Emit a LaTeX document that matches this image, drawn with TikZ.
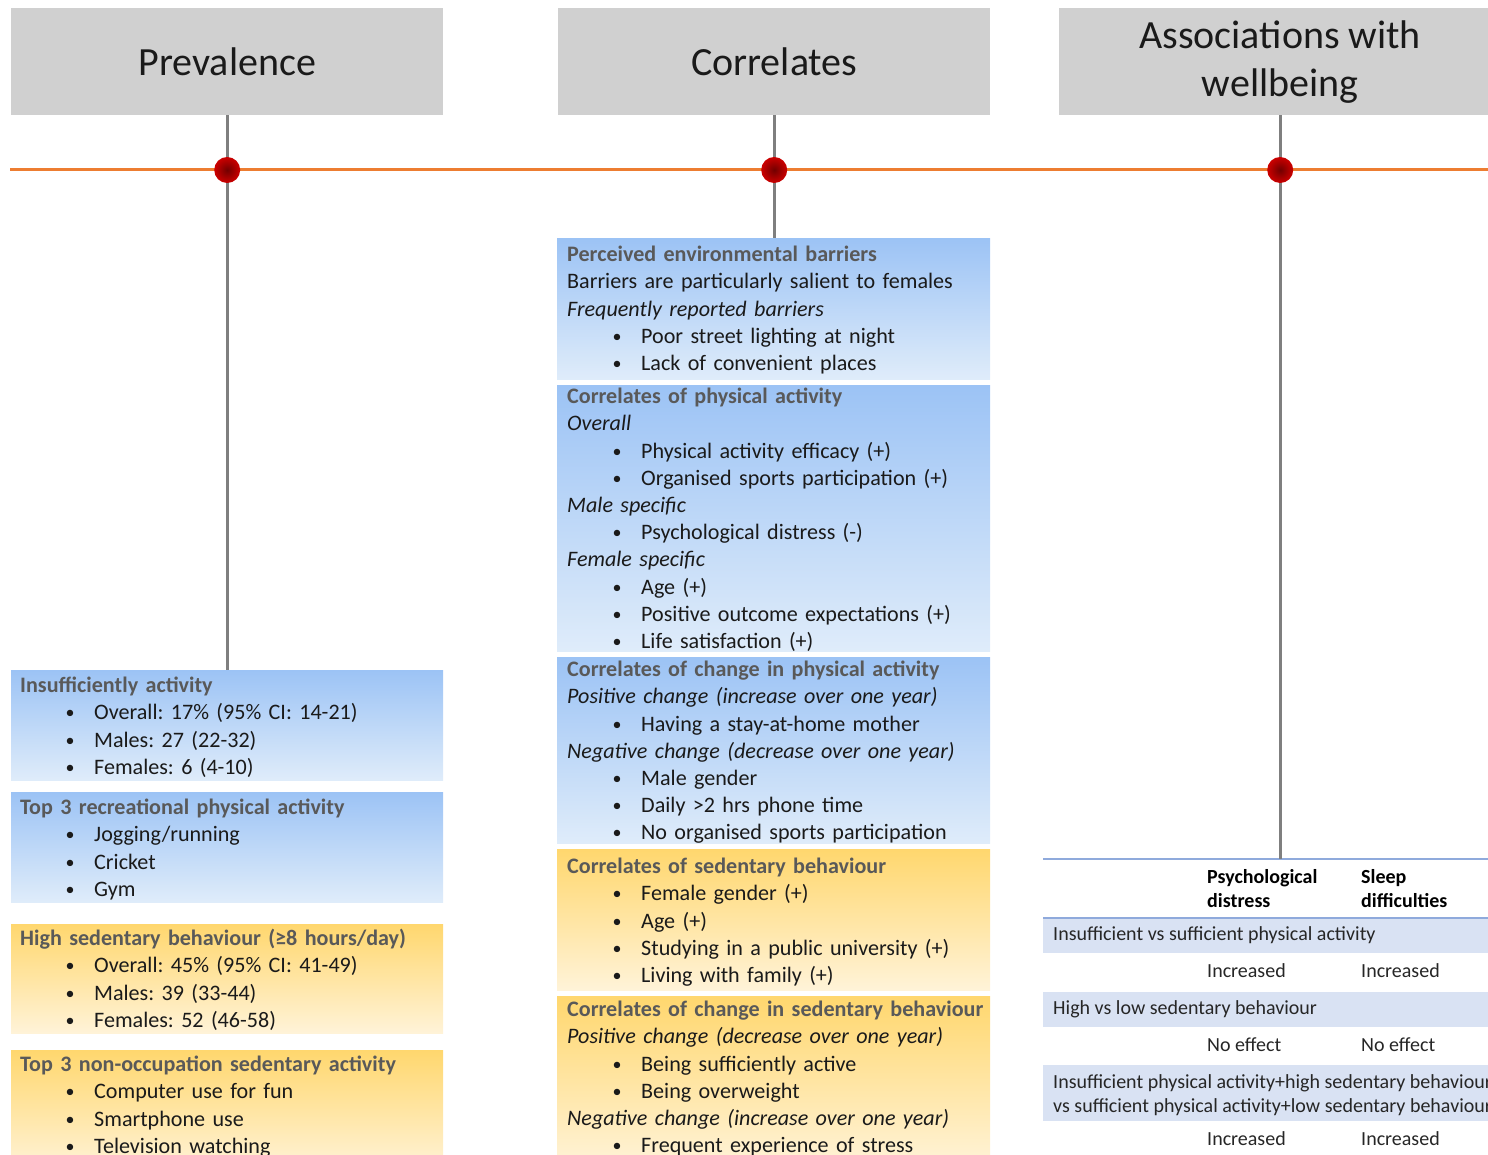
\documentclass[tikz,border=0pt]{standalone}
\usepackage{fontspec}
\setmainfont{Carlito}
\setlength\parindent{0pt}
\frenchspacing
\definecolor{hdr}{HTML}{D0D0D0}
\definecolor{orl}{HTML}{ED7D31}
\definecolor{gl}{HTML}{7F7F7F}
\definecolor{btop}{HTML}{9CC3F5}
\definecolor{bbot}{HTML}{DFECFA}
\definecolor{otop}{HTML}{FFD76E}
\definecolor{obot}{HTML}{FFF3D8}
\definecolor{ttlc}{HTML}{595959}
\definecolor{band}{HTML}{D9E2F3}
\definecolor{tline}{HTML}{8FAADC}
\definecolor{txt}{HTML}{1A1A1A}
\definecolor{dotin}{HTML}{720000}
\definecolor{dotout}{HTML}{CC0000}
\newcommand\boxtitle[1]{\strut{\bfseries\color{ttlc}#1}}
\newcommand\bitem[1]{\strut\hspace*{46pt}\makebox[8pt][c]{\raisebox{1pt}{\fontsize{18}{18}\selectfont •}}\hspace*{20pt}#1}
\newcommand\itl[1]{\strut\textit{#1}}
\newcommand\pline[1]{\strut #1}
\begin{document}
\begin{tikzpicture}[x=1pt,y=-1pt,
  hbox/.style={fill=hdr, draw=none, minimum width=432, minimum height=107, anchor=north west, inner sep=0, font=\fontsize{40}{48}\selectfont, text=txt, align=center},
  bbox/.style={top color=btop, bottom color=bbot, draw=none, anchor=north west, inner sep=0, minimum width=432},
  obox/.style={top color=otop, bottom color=obot, draw=none, anchor=north west, inner sep=0, minimum width=432},
  tx/.style={anchor=north west, inner sep=0, align=left, text width=425, font=\fontsize{22.1}{27.2}\selectfont, text=txt},
  gline/.style={draw=gl, line width=3},
  oline/.style={draw=orl, line width=3},
  dotn/.style={circle, minimum size=26, inner sep=0, inner color=dotin, outer color=dotout, draw=none},
  bandbox/.style={fill=band, draw=none, anchor=north west, inner sep=0, minimum width=460},
  tln/.style={draw=tline, line width=2},
  tt/.style={anchor=base west, inner sep=0, font=\fontsize{20}{24}\selectfont, text={rgb,255:red,38;green,38;blue,38}},
  th/.style={anchor=base west, inner sep=0, font=\fontsize{20}{24}\selectfont\bfseries, text=black}
]
\useasboundingbox (0,0) rectangle (1488,1155);
\clip (0,0) rectangle (1488,1155);

% headers
\node[hbox] (h1) at (11,8) {Prevalence};
\node[hbox] (h2) at (558,8) {Correlates};
\node[hbox, minimum width=442] (h3) at (1059,8) {Associations with\\wellbeing};

% timeline
\coordinate (oL) at (10,170);
\coordinate (oR) at (1488,170);
\draw[oline] (oL) -- (oR);

% left boxes
\node[bbox, minimum height=110] (ins) at (11,670) {};
\node[tx] (inst) at (20,673.5) {\boxtitle{Insufficiently activity}\\
\bitem{Overall: 17\% (95\% CI: 14-21)}\\
\bitem{Males: 27 (22-32)}\\
\bitem{Females: 6 (4-10)}};

\node[bbox, minimum height=110] (rec) at (11,792) {};
\node[tx] (rect) at (20,795.5) {\boxtitle{Top 3 recreational physical activity}\\
\bitem{Jogging/running}\\
\bitem{Cricket}\\
\bitem{Gym}};

\node[obox, minimum height=109] (hsb) at (11,924) {};
\node[tx] (hsbt) at (20,926.5) {\boxtitle{High sedentary behaviour (≥8 hours/day)}\\
\bitem{Overall: 45\% (95\% CI: 41-49)}\\
\bitem{Males: 39 (33-44)}\\
\bitem{Females: 52 (46-58)}};

\node[obox, minimum height=120] (noc) at (11,1050) {};
\node[tx] (noct) at (20,1052.5) {\boxtitle{Top 3 non-occupation sedentary activity}\\
\bitem{Computer use for fun}\\
\bitem{Smartphone use}\\
\bitem{Television watching}};

% middle boxes
\node[bbox, minimum width=433, minimum height=141] (perc) at (557,238) {};
\node[tx] (perct) at (567,242.5) {\boxtitle{Perceived environmental barriers}\\
\pline{Barriers are particularly salient to females}\\
\itl{Frequently reported barriers}\\
\bitem{Poor street lighting at night}\\
\bitem{Lack of convenient places}};

\node[bbox, minimum width=433, minimum height=266] (cpa) at (557,385) {};
\node[tx] (cpat) at (567,384.5) {\boxtitle{Correlates of physical activity}\\
\itl{Overall}\\
\bitem{Physical activity efficacy (+)}\\
\bitem{Organised sports participation (+)}\\
\itl{Male specific}\\
\bitem{Psychological distress (-)}\\
\itl{Female specific}\\
\bitem{Age (+)}\\
\bitem{Positive outcome expectations (+)}\\
\bitem{Life satisfaction (+)}};

\node[bbox, minimum width=433, minimum height=186] (cchpa) at (557,657) {};
\node[tx] (cchpat) at (567,657.5) {\boxtitle{Correlates of change in physical activity}\\
\itl{Positive change (increase over one year)}\\
\bitem{Having a stay-at-home mother}\\
\itl{Negative change (decrease over one year)}\\
\bitem{Male gender}\\
\bitem{Daily >2 hrs phone time}\\
\bitem{No organised sports participation}};

\node[obox, minimum width=433, minimum height=141] (csb) at (557,849) {};
\node[tx] (csbt) at (567,854.5) {\boxtitle{Correlates of sedentary behaviour}\\
\bitem{Female gender (+)}\\
\bitem{Age (+)}\\
\bitem{Studying in a public university (+)}\\
\bitem{Living with family (+)}};

\node[obox, minimum width=433, minimum height=170] (cchsb) at (557,996) {};
\node[tx] (cchsbt) at (567,997.5) {\boxtitle{Correlates of change in sedentary behaviour}\\
\itl{Positive change (decrease over one year)}\\
\bitem{Being sufficiently active}\\
\bitem{Being overweight}\\
\itl{Negative change (increase over one year)}\\
\bitem{Frequent experience of stress}};

% table
\coordinate (tabtop) at (1280,859);
\coordinate (tabL) at (1043,859);
\coordinate (tabR) at (1500,859);
\node[bandbox, minimum height=35] (r1) at (1043,918) {};
\node[bandbox, minimum height=35] (r2) at (1043,992) {};
\node[bandbox, minimum height=56] (r3) at (1043,1065) {};
\draw[tln] (tabL) -- (tabR);
\draw[tln] (r1.north west) -- (r1.north east);

\node[th] (ph1) at (1207,883.5) {Psychological};
\node[th] (ph2) at (1207,907.5) {distress};
\node[th] (sd1) at (1361,883.5) {Sleep};
\node[th] (sd2) at (1361,907.5) {difficulties};

\node[tt] (r1t) at (1053,940.5) {Insufficient vs sufficient physical activity};
\node[tt] (i1) at (1207,977.5) {Increased};
\node[tt] (i2) at (1361,977.5) {Increased};
\node[tt] (r2t) at (1053,1014.5) {High vs low sedentary behaviour};
\node[tt] (n1) at (1207,1051.5) {No effect};
\node[tt] (n2) at (1361,1051.5) {No effect};
\node[tt] (r3a) at (1053,1088.5) {Insufficient physical activity+high sedentary behaviour};
\node[tt] (r3b) at (1053,1112.5) {vs sufficient physical activity+low sedentary behaviour};
\node[tt] (i3) at (1207,1145.5) {Increased};
\node[tt] (i4) at (1361,1145.5) {Increased};

% connectors
\draw[gline] (h1.south) -- (ins.north);
\draw[gline] (h2.south) -- (h2.south |- perc.north);
\draw[gline] (h3.south) -- (h3.south |- tabtop);

% dots
\node[dotn] (d1) at (h1.south |- oL) {};
\node[dotn] (d2) at (h2.south |- oL) {};
\node[dotn] (d3) at (h3.south |- oL) {};
\end{tikzpicture}
\end{document}
